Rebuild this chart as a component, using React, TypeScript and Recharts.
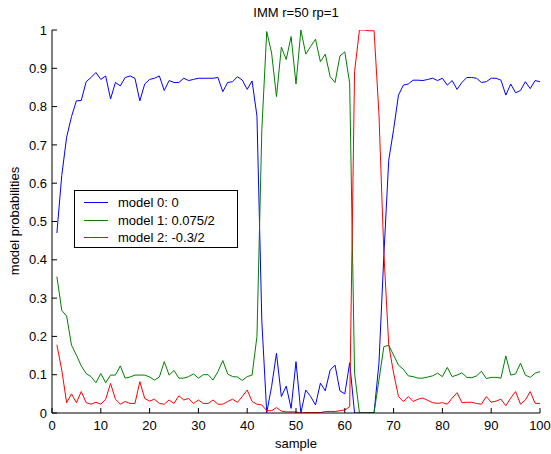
import React from 'react';
import { LineChart, Line, XAxis, YAxis } from 'recharts';

// IMM model probabilities, samples 1..100
const model0 = [
    0.47, 0.62, 0.72, 0.774, 0.815, 0.816, 0.865, 0.876, 0.889, 0.871,
    0.88, 0.82, 0.863, 0.854, 0.876, 0.88, 0.874, 0.815, 0.859, 0.871,
    0.874, 0.88, 0.842, 0.868, 0.863, 0.863, 0.874, 0.868, 0.871, 0.874,
    0.874, 0.874, 0.874, 0.876, 0.839, 0.863, 0.865, 0.878, 0.869, 0.845,
    0.867, 0.775, 0.24, 0.001, 0.069, 0.156, 0.043, 0.07, 0.012, 0.134,
    0.0, 0.06, 0.043, 0.021, 0.078, 0.058, 0.112, 0.125, 0.058, 0.05,
    0.131, 0.0, 0.0, 0.0, 0.0, 0.001, 0.13, 0.41, 0.66, 0.74,
    0.83, 0.856, 0.859, 0.869, 0.869, 0.868, 0.871, 0.874, 0.868, 0.874,
    0.856, 0.868, 0.845, 0.863, 0.876, 0.876, 0.874, 0.863, 0.865, 0.874,
    0.874, 0.869, 0.83, 0.859, 0.836, 0.842, 0.865, 0.847, 0.868, 0.865,
];

const model1 = [
    0.356, 0.268, 0.253, 0.177, 0.151, 0.123, 0.103, 0.095, 0.079, 0.103,
    0.079, 0.099, 0.099, 0.123, 0.091, 0.094, 0.099, 0.099, 0.099, 0.094,
    0.086, 0.094, 0.134, 0.099, 0.111, 0.091, 0.091, 0.095, 0.102, 0.091,
    0.1, 0.1, 0.086, 0.108, 0.137, 0.102, 0.095, 0.094, 0.085, 0.095,
    0.099, 0.2, 0.74, 0.996, 0.94, 0.826, 0.955, 0.923, 0.983, 0.859,
    1.0, 0.937, 0.957, 0.976, 0.917, 0.937, 0.878, 0.863, 0.932, 0.943,
    0.861, 0.104, 0.0, 0.0, 0.001, 0.001, 0.086, 0.173, 0.177, 0.151,
    0.125, 0.114, 0.097, 0.095, 0.091, 0.091, 0.094, 0.097, 0.104, 0.095,
    0.119, 0.095, 0.099, 0.105, 0.093, 0.092, 0.097, 0.109, 0.09, 0.093,
    0.093, 0.091, 0.149, 0.099, 0.102, 0.13, 0.099, 0.093, 0.104, 0.108,
];

const model2 = [
    0.178, 0.112, 0.027, 0.05, 0.027, 0.056, 0.027, 0.023, 0.028, 0.023,
    0.036, 0.077, 0.036, 0.023, 0.03, 0.025, 0.025, 0.082, 0.038, 0.031,
    0.036, 0.025, 0.023, 0.034, 0.025, 0.045, 0.034, 0.038, 0.025, 0.034,
    0.025, 0.025, 0.034, 0.023, 0.023, 0.03, 0.036, 0.028, 0.043, 0.06,
    0.03, 0.023, 0.021, 0.006, 0.006, 0.014, 0.005, 0.003, 0.003, 0.003,
    0.0, 0.001, 0.001, 0.001, 0.001, 0.004, 0.004, 0.004, 0.006, 0.008,
    0.016, 0.891, 1.0, 1.0, 0.998, 0.998, 0.78, 0.42, 0.178, 0.104,
    0.043, 0.03, 0.043, 0.03, 0.036, 0.039, 0.033, 0.027, 0.025, 0.027,
    0.023, 0.039, 0.053, 0.027, 0.028, 0.028, 0.025, 0.023, 0.043, 0.028,
    0.031, 0.036, 0.019, 0.039, 0.056, 0.023, 0.034, 0.056, 0.025, 0.025,
];

const xTicks = [0, 10, 20, 30, 40, 50, 60, 70, 80, 90, 100];
const yTicks = [0, 0.1, 0.2, 0.3, 0.4, 0.5, 0.6, 0.7, 0.8, 0.9, 1];

const legendItems = [
    { label: 'model 0: 0', color: '#0000ff' },
    { label: 'model 1: 0.075/2', color: '#008000' },
    { label: 'model 2: -0.3/2', color: '#ff0000' },
];

const data = model0.map((v, i) => ({
    sample: i + 1,
    m0: v,
    m1: model1[i],
    m2: model2[i],
}));

const font = '"Liberation Sans", Arial, sans-serif';
const tickStyle = { fill: '#000', fontSize: 13, fontFamily: font };
const formatY = (v: number) => (v === 0 || v === 1 ? String(v) : v.toFixed(1));
const blank = () => '';

export default function App() {
    return (
        <div style={{ position: 'absolute', left: 0, top: 0, width: 551, height: 454, background: '#fff', fontFamily: font, color: '#000' }}>
            <LineChart width={551} height={454} data={data} margin={{ top: 30, right: 11, bottom: 0, left: 0 }}>
                <XAxis
                    xAxisId="b"
                    type="number"
                    dataKey="sample"
                    domain={[0, 100]}
                    ticks={xTicks}
                    interval={0}
                    allowDataOverflow
                    height={41}
                    tickSize={-5}
                    tickMargin={13}
                    axisLine={{ stroke: '#000' }}
                    tickLine={{ stroke: '#000' }}
                    tick={tickStyle}
                />
                <XAxis
                    xAxisId="t"
                    orientation="top"
                    type="number"
                    dataKey="sample"
                    domain={[0, 100]}
                    ticks={xTicks}
                    interval={0}
                    allowDataOverflow
                    height={0}
                    tickSize={-5}
                    axisLine={{ stroke: '#000' }}
                    tickLine={{ stroke: '#000' }}
                    tickFormatter={blank}
                />
                <YAxis
                    yAxisId="l"
                    type="number"
                    domain={[0, 1]}
                    ticks={yTicks}
                    interval={0}
                    allowDataOverflow
                    width={52}
                    tickSize={-5}
                    tickMargin={10}
                    axisLine={{ stroke: '#000' }}
                    tickLine={{ stroke: '#000' }}
                    tick={tickStyle}
                    tickFormatter={formatY}
                />
                <YAxis
                    yAxisId="r"
                    orientation="right"
                    type="number"
                    domain={[0, 1]}
                    ticks={yTicks}
                    interval={0}
                    allowDataOverflow
                    width={0}
                    tickSize={-5}
                    axisLine={{ stroke: '#000' }}
                    tickLine={{ stroke: '#000' }}
                    tickFormatter={blank}
                />
                <Line xAxisId="b" yAxisId="l" type="linear" dataKey="m0" stroke="#0000ff" strokeWidth={1} dot={false} isAnimationActive={false} />
                <Line xAxisId="b" yAxisId="l" type="linear" dataKey="m1" stroke="#008000" strokeWidth={1} dot={false} isAnimationActive={false} />
                <Line xAxisId="b" yAxisId="l" type="linear" dataKey="m2" stroke="#ff0000" strokeWidth={1} dot={false} isAnimationActive={false} />
                <Line xAxisId="t" yAxisId="r" type="linear" dataKey="m0" stroke="none" dot={false} isAnimationActive={false} />
            </LineChart>

            <div style={{ position: 'absolute', left: 0, width: 592, top: 5, textAlign: 'center', fontSize: 13 }}>
                IMM r=50 rp=1
            </div>
            <div style={{ position: 'absolute', left: 0, width: 592, top: 436, textAlign: 'center', fontSize: 13 }}>
                sample
            </div>
            <div
                style={{
                    position: 'absolute',
                    left: 14,
                    top: 221,
                    fontSize: 13,
                    whiteSpace: 'nowrap',
                    transform: 'translate(-50%, -50%) rotate(-90deg)',
                }}
            >
                model probabilities
            </div>

            <div
                style={{
                    position: 'absolute',
                    left: 74,
                    top: 190,
                    width: 162,
                    height: 56,
                    border: '1px solid #000',
                    background: '#fff',
                    fontSize: 13,
                }}
            >
                {legendItems.map((item, i) => (
                    <div key={item.label} style={{ position: 'absolute', left: 0, top: 3 + i * 17.7, height: 17, display: 'flex', alignItems: 'center' }}>
                        <div style={{ marginLeft: 9, width: 24, height: 1, background: item.color }} />
                        <span style={{ marginLeft: 10, whiteSpace: 'nowrap' }}>{item.label}</span>
                    </div>
                ))}
            </div>
        </div>
    );
}
